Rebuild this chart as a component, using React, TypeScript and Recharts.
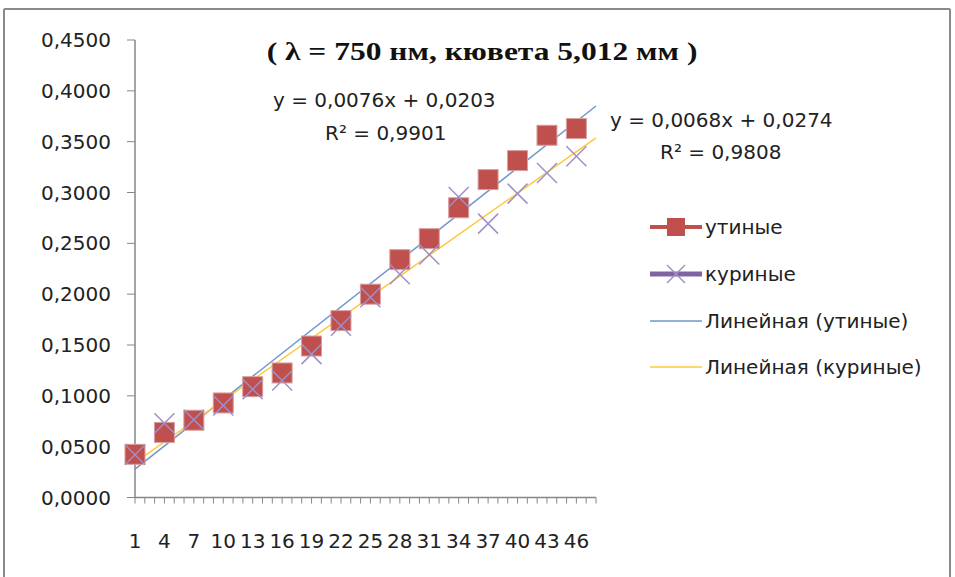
import React from 'react';
import { LineChart, Line, XAxis, YAxis, Legend } from 'recharts';

// categories on the x axis (Excel line chart, 48 rows)
const categories = [
  '1', '2', '3', '4', '5', '6', '7', '8', '9', '10', '11', '12',
  '13', '14', '15', '16', '17', '18', '19', '20', '21', '22', '23', '24',
  '25', '26', '27', '28', '29', '30', '31', '32', '33', '34', '35', '36',
  '37', '38', '39', '40', '41', '42', '43', '44', '45', '46', '47', '48',
];

// rows where measurements were taken
const sampleCats = ['1', '4', '7', '10', '13', '16', '19', '22', '25', '28', '31', '34', '37', '40', '43', '46'];

const duckValues = [0.0425, 0.064, 0.076, 0.093, 0.109, 0.1225, 0.149, 0.174, 0.2, 0.234, 0.2546, 0.285, 0.3127, 0.3314, 0.3563, 0.3629];
const chickenValues = [0.042, 0.073, 0.0765, 0.0905, 0.1065, 0.115, 0.141, 0.169, 0.197, 0.2195, 0.239, 0.2956, 0.2694, 0.2989, 0.3192, 0.3356];

// trend line ends, from the equations shown on the chart
const trendCats = ['1', '48'];
const duckTrend = [0.0279, 0.3851];    // y = 0,0076x + 0,0203
const chickenTrend = [0.0342, 0.3538]; // y = 0,0068x + 0,0274

const yTicks = [0, 0.05, 0.1, 0.15, 0.2, 0.25, 0.3, 0.35, 0.4, 0.45];

const legendOrder = ['ducks', 'chickens', 'duckTrend', 'chickenTrend'];

const data = categories.map((cat) => {
  const k = sampleCats.indexOf(cat);
  const t = trendCats.indexOf(cat);
  return {
    cat,
    ducks: k >= 0 ? duckValues[k] : null,
    chickens: k >= 0 ? chickenValues[k] : null,
    duckTrend: t >= 0 ? duckTrend[t] : null,
    chickenTrend: t >= 0 ? chickenTrend[t] : null,
  };
});

const FONT = '"DejaVu Sans", sans-serif';
const AXIS = '#868686';
const RED = '#C0504D';
const PURPLE = '#8064A2';
const BLUE = '#6F97CC';
const YELLOW = '#FFC83A';

const SquareDot = (p: any) => {
  if (p.value == null || p.cy == null) return <g key={p.key} />;
  return (
    <rect key={p.key} x={p.cx - 10} y={p.cy - 10} width={20} height={20}
      fill={RED} stroke="#D9A0A0" strokeWidth={1} />
  );
};

const CrossDot = (p: any) => {
  if (p.value == null || p.cy == null) return <g key={p.key} />;
  const s = 10;
  return (
    <g key={p.key} stroke="#A08FC6" strokeWidth={1.5}>
      <line x1={p.cx - s} y1={p.cy - s} x2={p.cx + s} y2={p.cy + s} />
      <line x1={p.cx - s} y1={p.cy + s} x2={p.cx + s} y2={p.cy - s} />
    </g>
  );
};

const XTick = (p: any) => {
  const { x, y, index, payload } = p;
  return (
    <g>
      <line x1={x} y1={y} x2={x} y2={y + 6} stroke={AXIS} />
      {index % 3 === 0 && (
        <text x={x} y={y + 43} textAnchor="middle" dominantBaseline="central"
          fontFamily={FONT} fontSize={20} fill="#222">
          {payload.value}
        </text>
      )}
    </g>
  );
};

const legendSymbol = (key: string) => {
  if (key === 'ducks') {
    return (
      <g>
        <line x1={0} y1={12} x2={52} y2={12} stroke={RED} strokeWidth={4} />
        <rect x={17} y={3} width={18} height={18} fill={RED} />
      </g>
    );
  }
  if (key === 'chickens') {
    return (
      <g>
        <line x1={0} y1={12} x2={52} y2={12} stroke={PURPLE} strokeWidth={5} />
        <g stroke="#A08FC6" strokeWidth={1.5}>
          <line x1={17} y1={3} x2={35} y2={21} />
          <line x1={17} y1={21} x2={35} y2={3} />
        </g>
      </g>
    );
  }
  return <line x1={0} y1={12} x2={52} y2={12} stroke={key === 'duckTrend' ? BLUE : YELLOW} strokeWidth={1.5} />;
};

const renderLegend = (props: any) => {
  const items = [...(props.payload || [])].sort(
    (a: any, b: any) => legendOrder.indexOf(a.dataKey) - legendOrder.indexOf(b.dataKey)
  );
  return (
    <div style={{ fontFamily: FONT, fontSize: 20, color: '#222' }}>
      {items.map((entry: any) => (
        <div key={entry.dataKey} style={{ display: 'flex', alignItems: 'center', height: 46.7 }}>
          <svg width={55} height={24} style={{ flex: 'none' }}>{legendSymbol(entry.dataKey)}</svg>
          <span>{entry.value}</span>
        </div>
      ))}
    </div>
  );
};

const textStyle: React.CSSProperties = {
  position: 'absolute',
  fontFamily: FONT,
  fontSize: 20,
  lineHeight: '24px',
  color: '#222',
  whiteSpace: 'nowrap',
};

export default function App() {
  return (
    <div style={{ position: 'absolute', left: 0, top: 0, width: 955, height: 577, overflow: 'hidden', background: '#fff' }}>
      <div style={{
        position: 'absolute', left: 3, top: 8, width: 944, height: 620,
        border: '2px solid #8a8a8a', borderRadius: 2,
      }} />
      <LineChart width={955} height={577} data={data}
        margin={{ top: 40, right: 359, bottom: 0, left: 0 }}>
        <XAxis dataKey="cat" interval={0} height={79.5} tickSize={0} tickMargin={0}
          tickLine={false} axisLine={{ stroke: AXIS, strokeWidth: 1.5 }} tick={<XTick />} />
        <YAxis width={135} domain={[0, 0.45]} ticks={yTicks} interval={0}
          tickSize={8} tickMargin={16}
          axisLine={{ stroke: AXIS, strokeWidth: 1.5 }} tickLine={{ stroke: AXIS }}
          tick={{ fontFamily: FONT, fontSize: 20, fill: '#222' }}
          tickFormatter={(v: number) => v.toFixed(4).replace('.', ',')} />
        <Legend layout="vertical" align="center" verticalAlign="middle"
          content={renderLegend}
          wrapperStyle={{ left: 650, top: 204, width: 300 }} />
        <Line name="утиные" dataKey="ducks" stroke={RED} strokeWidth={3}
          dot={SquareDot} activeDot={false} isAnimationActive={false} />
        <Line name="куриные" dataKey="chickens" stroke={PURPLE} strokeWidth={3}
          dot={CrossDot} activeDot={false} isAnimationActive={false} />
        <Line name="Линейная (утиные)" dataKey="duckTrend" stroke={BLUE} strokeWidth={1.5}
          dot={false} activeDot={false} connectNulls isAnimationActive={false} />
        <Line name="Линейная (куриные)" dataKey="chickenTrend" stroke={YELLOW} strokeWidth={1.5}
          dot={false} activeDot={false} connectNulls isAnimationActive={false} />
      </LineChart>

      <div style={{
        position: 'absolute', left: 482, top: 36, transform: 'translateX(-50%) scaleX(1.26)',
        fontFamily: '"Liberation Serif", serif', fontWeight: 'bold', fontSize: 25,
        lineHeight: '32px', whiteSpace: 'nowrap', color: '#111',
      }}>
        ( λ = 750 нм, кювета 5,012 мм )
      </div>

      <div style={{ ...textStyle, left: 273, top: 88 }}>y = 0,0076x + 0,0203</div>
      <div style={{ ...textStyle, left: 325, top: 121 }}>R² = 0,9901</div>
      <div style={{ ...textStyle, left: 610, top: 108 }}>y = 0,0068x + 0,0274</div>
      <div style={{ ...textStyle, left: 660, top: 140 }}>R² = 0,9808</div>
    </div>
  );
}
